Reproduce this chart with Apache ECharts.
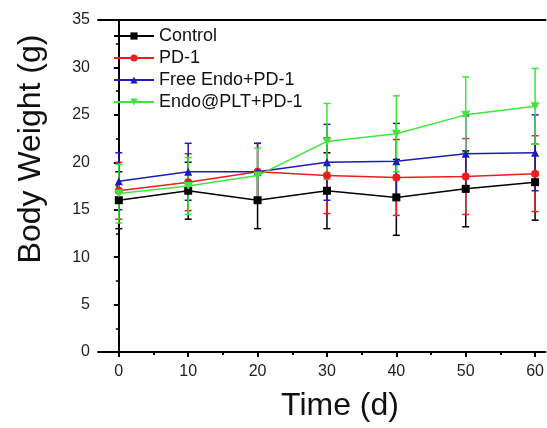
<!DOCTYPE html>
<html lang="en">
<head>
    <meta charset="UTF-8">
    <title>Body Weight</title>
    <script src="https://cdn.jsdelivr.net/npm/echarts@6/dist/echarts.min.js"></script>
</head>
<body style="margin:0">
    <div style="width: 547px; height:428px" id="main"></div>
    <script type="text/javascript">
        var days = [0, 10, 20, 30, 40, 50, 60]
        var names = ['Control', 'PD-1', 'Free Endo+PD-1', 'Endo@PLT+PD-1']
        var control = [16, 17, 16, 17, 16.3, 17.2, 17.9]
        var pd1 = [17, 17.9, 19, 18.6, 18.4, 18.5, 18.8]
        var freeEndo = [18, 19, 19, 20, 20.1, 20.9, 21]
        var endoPlt = [16.7, 17.5, 18.6, 22.2, 23, 25, 25.9]
        var controlErr = [3, 3, 3, 4, 4, 4, 4]
        var pd1Err = [3, 3, 3, 4, 4, 4, 4]
        var freeEndoErr = [3, 3, 3, 4, 4, 4, 4]
        var endoPltErr = [3.1, 3, 2.9, 4, 4, 4, 4]
        var xTicks = [0, 10, 20, 30, 40, 50, 60]
        var xMinorTicks = [5, 15, 25, 35, 45, 55]

        var colors = ['#000000', '#f01c1c', '#1c1cb4', '#3ce63c']
        var symbols = ['rect', 'circle', 'triangle', 'path://M0,0 L10,0 L5,9 Z']
        var values = [control, pd1, freeEndo, endoPlt]
        var errs = [controlErr, pd1Err, freeEndoErr, endoPltErr]

        var font = 'Liberation Sans, Arial, sans-serif'
        var myChart = echarts.init(document.getElementById('main'))

        var series = []
        values.forEach((vals, i) => {
            // error bars
            series.push({
                type: 'custom',
                xAxisIndex: 0,
                z: 2 + i,
                silent: true,
                data: days.map((d, k) => [d, vals[k] - errs[i][k], vals[k] + errs[i][k]]),
                renderItem: (params, api) => {
                    var lo = api.coord([api.value(0), api.value(1)])
                    var hi = api.coord([api.value(0), api.value(2)])
                    var st = {stroke: colors[i], lineWidth: 1.5}
                    return {
                        type: 'group',
                        children: [
                            {type: 'line', shape: {x1: lo[0], y1: lo[1], x2: hi[0], y2: hi[1]}, style: st},
                            {type: 'line', shape: {x1: lo[0] - 3.5, y1: lo[1], x2: lo[0] + 3.5, y2: lo[1]}, style: st},
                            {type: 'line', shape: {x1: hi[0] - 3.5, y1: hi[1], x2: hi[0] + 3.5, y2: hi[1]}, style: st}
                        ]
                    }
                }
            })
            series.push({
                name: names[i],
                type: 'line',
                xAxisIndex: 0,
                z: 10 + i,
                symbol: symbols[i],
                symbolSize: i == 3 ? [9, 8] : 8,
                showAllSymbol: true,
                lineStyle: {color: colors[i], width: 1.5},
                itemStyle: {color: colors[i]},
                data: days.map((d, k) => [d, vals[k]])
            })
        })

        option = {
            animation: false,
            grid: {left: 98, top: 20, right: 0, bottom: 76},
            legend: {
                orient: 'vertical',
                left: 108,
                top: 22,
                itemWidth: 40,
                itemHeight: 9,
                itemGap: 4,
                textStyle: {fontFamily: font, fontSize: 18, color: '#111'},
                data: names
            },
            xAxis: [
                {
                    type: 'value',
                    min: -3,
                    max: 61.5,
                    axisLine: {lineStyle: {color: '#000', width: 2}},
                    splitLine: {show: false},
                    axisTick: {customValues: xTicks, length: 5, lineStyle: {color: '#000', width: 2}},
                    axisLabel: {customValues: xTicks, margin: 12, fontFamily: font, fontSize: 16, color: '#222'}
                },
                {
                    type: 'value',
                    position: 'bottom',
                    min: -3,
                    max: 61.5,
                    axisLine: {show: false},
                    splitLine: {show: false},
                    axisTick: {customValues: xMinorTicks, length: 3, lineStyle: {color: '#000', width: 2}},
                    axisLabel: {show: false}
                },
                {
                    type: 'value',
                    position: 'top',
                    min: -3,
                    max: 61.5,
                    axisLine: {lineStyle: {color: '#000', width: 2}},
                    splitLine: {show: false},
                    axisTick: {show: false},
                    axisLabel: {show: false}
                }
            ],
            yAxis: {
                type: 'value',
                min: 0,
                max: 35,
                interval: 5,
                axisLine: {show: true, lineStyle: {color: '#000', width: 2}},
                splitLine: {show: false},
                axisTick: {length: 5, lineStyle: {color: '#000', width: 2}},
                minorTick: {show: true, splitNumber: 2, length: 3, lineStyle: {color: '#000', width: 1.5}},
                axisLabel: {margin: 8, fontFamily: font, fontSize: 16, color: '#222'}
            },
            graphic: [
                {
                    type: 'text',
                    x: 31,
                    y: 149,
                    rotation: Math.PI / 2,
                    style: {text: 'Body Weight (g)', fontFamily: font, fontSize: 32, fill: '#111', align: 'center', verticalAlign: 'middle'}
                },
                {
                    type: 'text',
                    x: 340,
                    y: 406,
                    style: {text: 'Time (d)', fontFamily: font, fontSize: 32, fill: '#111', align: 'center', verticalAlign: 'middle'}
                }
            ],
            series: series
        }
        myChart.setOption(option)
    </script>
</body>
</html>
